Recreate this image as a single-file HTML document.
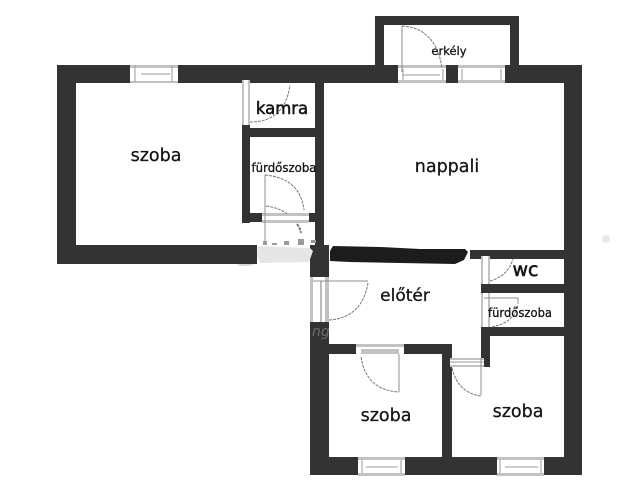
<!DOCTYPE html>
<html><head><meta charset="utf-8"><style>
html,body{margin:0;padding:0;background:#fff}
svg{display:block}
text{font-family:"DejaVu Sans","Liberation Sans",sans-serif;fill:#151515;stroke:#151515;stroke-width:.3}
</style></head><body>
<svg width="640" height="492" viewBox="0 0 640 492" xmlns="http://www.w3.org/2000/svg">
<rect width="640" height="492" fill="#fff"/>
<circle cx="606" cy="239" r="4" fill="#e8e8e8"/>
<g fill="#333335">
<rect x="57" y="65" width="525" height="18"/>
<rect x="57" y="65" width="19" height="199"/>
<rect x="57" y="245" width="200" height="19"/>
<rect x="564" y="65" width="18" height="410"/>
<rect x="375" y="16" width="144" height="9"/>
<rect x="375" y="16" width="9" height="50"/>
<rect x="510" y="16" width="9" height="50"/>
<rect x="242" y="83" width="8" height="140"/>
<rect x="242" y="128" width="82" height="9"/>
<rect x="315" y="83" width="9" height="165"/>
<rect x="242" y="213" width="21" height="9"/>
<rect x="309" y="213" width="15" height="9"/>
<rect x="310" y="245" width="19" height="230"/>
<rect x="310" y="457" width="272" height="18"/>
<rect x="329" y="344" width="123" height="10"/>
<rect x="442" y="344" width="10" height="113"/>
<rect x="470" y="250" width="94" height="9"/>
<rect x="481" y="284" width="83" height="9"/>
<rect x="481" y="327" width="83" height="9"/>
<rect x="481" y="327" width="9" height="40"/>
</g>
<path d="M330 251 L333 246 L380 247 L420 249 L465 249 L468 252 L464 260 L455 264 L400 263 L350 262 L330 261 Z" fill="#1c1c1e"/>
<path d="M258 246 L310 248 L313 251 L309 262 L260 263 L257 256 Z" fill="#e6e6e6"/>
<path d="M237 264 L255 264 L248 266 L240 266 Z" fill="#d8d8d8"/>
<!-- windows -->
<g fill="#fff" stroke="none">
<rect x="130" y="65" width="48" height="18"/>
<rect x="398" y="65" width="48" height="18"/>
<rect x="458" y="65" width="47" height="18"/>
<rect x="358" y="457" width="47" height="18"/>
<rect x="497" y="457" width="47" height="18"/>
<rect x="356" y="344" width="48" height="10"/>
<rect x="242" y="80" width="8" height="45"/>
<rect x="481" y="256" width="9" height="28"/>
<rect x="481" y="293" width="9" height="34"/>
<rect x="262" y="213" width="47" height="9"/>
<rect x="310" y="277" width="19" height="45"/>
<rect x="450" y="358" width="34" height="8"/>
</g>
<g fill="#c2c2c2">
<rect x="130" y="65" width="48" height="3"/><rect x="130" y="81" width="48" height="2"/>
<rect x="398" y="65" width="48" height="3"/><rect x="398" y="80" width="48" height="3"/>
<rect x="458" y="65" width="47" height="3"/><rect x="458" y="80" width="47" height="3"/>
<rect x="358" y="457" width="47" height="3"/><rect x="358" y="473" width="47" height="3"/>
<rect x="497" y="457" width="47" height="3"/><rect x="497" y="473" width="47" height="3"/>
<rect x="356" y="344" width="48" height="3"/><rect x="361" y="349" width="38" height="5"/>
<rect x="242" y="80" width="2" height="45"/><rect x="248" y="80" width="2" height="45"/>
<rect x="481" y="256" width="2" height="28"/><rect x="488" y="256" width="2" height="28"/>
<rect x="481" y="293" width="2" height="34"/><rect x="488" y="293" width="2" height="34"/>
<rect x="262" y="213" width="47" height="3"/><rect x="262" y="220" width="47" height="3"/>
<rect x="310" y="277" width="3" height="45"/><rect x="325" y="277" width="4" height="45"/>
<rect x="450" y="358" width="34" height="2"/><rect x="450" y="365" width="34" height="2"/>
</g>
<text x="312" y="336" font-size="14" font-style="italic" style="fill:#6a6a6a;stroke:none">ng</text>
<g stroke="#9a9a9a" stroke-width="1" fill="none">
<path d="M135 66V82M172 66V82M141 74H170"/>
<path d="M403 69V80M443 69V80M403 75H440"/>
<path d="M462 69V80M501 69V80"/>
<path d="M362 460V473M401 460V473M366 467H398"/>
<path d="M500 460V473M541 460V473M505 467H538"/>
<path d="M321 281V322" stroke="#777"/>
<path d="M450 362H484"/>
</g>
<!-- door leaves -->
<g stroke="#8f8f8f" stroke-width="1" fill="none">
<path d="M402 26V72"/>
<path d="M265 175V241"/>
<path d="M313 281H368"/>
<path d="M399 354V392"/>
<path d="M481 358V395"/>
<path d="M484 298H518V304"/>
</g>
<g stroke="#777" stroke-width="1" fill="none" stroke-dasharray="3 1">
<path d="M402 26 Q436 28 442 68"/>
<path d="M265 175 Q300 178 304 210"/>
<path d="M266 206 Q280 208 287 214"/>
<path d="M297 224 Q300 228 301 233" stroke-width="2"/>
<path d="M250 122 Q285 122 290 85"/>
<path d="M329 320 Q362 318 368 283"/>
<path d="M361 357 Q366 390 399 392"/>
<path d="M452 368 Q458 393 481 396"/>
<path d="M490 281 Q508 276 513 259"/>
<path d="M492 327 Q515 322 518 305"/>
</g>
<g fill="#9a9a9a">
<rect x="263" y="241" width="4" height="4"/>
<rect x="272" y="243" width="5" height="2"/>
<rect x="284" y="241" width="5" height="4"/>
<rect x="298" y="239" width="6" height="6"/>
<rect x="311" y="240" width="5" height="3"/>
</g>
<text x="156" y="161" font-size="17.5" text-anchor="middle">szoba</text>
<text x="282" y="114" font-size="16.5" text-anchor="middle" style="stroke-width:.55">kamra</text>
<text x="284" y="172" font-size="12.5" text-anchor="middle" textLength="65" lengthAdjust="spacingAndGlyphs">fürdőszoba</text>
<text x="447" y="172" font-size="17.5" text-anchor="middle">nappali</text>
<text x="449" y="55" font-size="11.5" text-anchor="middle">erkély</text>
<text x="405" y="301" font-size="17" text-anchor="middle">előtér</text>
<text x="525.5" y="276" font-size="19" text-anchor="middle" style="stroke-width:.55">wc</text>
<text x="520" y="317" font-size="12.5" text-anchor="middle" textLength="64" lengthAdjust="spacingAndGlyphs">fürdőszoba</text>
<text x="386" y="421" font-size="17.5" text-anchor="middle">szoba</text>
<text x="518" y="417" font-size="17.5" text-anchor="middle">szoba</text>
</svg>
</body></html>
